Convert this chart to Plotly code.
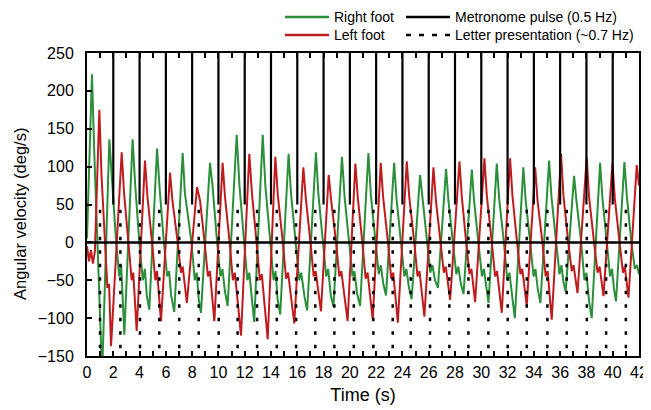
import plotly.graph_objects as go

# ---------------- data ----------------
right_t = [
    0.00, 0.38, 0.55, 0.75, 0.95, 1.15,
    1.70, 1.90, 2.20, 2.45, 2.60, 2.84,
    3.47, 3.67, 3.98, 4.25, 4.40, 4.55, 4.74,
    5.33, 5.53, 5.85, 6.10, 6.25, 6.40, 6.64,
    7.28, 7.45, 7.95, 8.20, 8.35, 8.50, 8.67,
    9.36, 9.55, 9.90, 10.15, 10.30, 10.50, 10.70,
    11.39, 11.60, 11.95, 12.20, 12.35, 12.55, 12.72,
    13.37, 13.57, 13.95, 14.20, 14.35, 14.50, 14.70,
    15.34, 15.52, 15.90, 16.15, 16.30, 16.55, 16.75,
    17.42, 17.60, 17.95, 18.20, 18.35, 18.55, 18.75,
    19.40, 19.60, 19.95, 20.20, 20.35, 20.55, 20.78,
    21.41, 21.60, 21.95, 22.20, 22.35, 22.55, 22.75,
    23.37, 23.55, 23.90, 24.15, 24.30, 24.50, 24.70,
    25.34, 25.52, 25.88, 26.12, 26.28, 26.48, 26.70,
    27.32, 27.50, 27.85, 28.10, 28.25, 28.45, 28.65,
    29.28, 29.45, 29.80, 30.05, 30.20, 30.38, 30.55,
    31.18, 31.36, 31.72, 31.98, 32.14, 32.35, 32.55,
    33.20, 33.38, 33.72, 33.98, 34.12, 34.30, 34.50,
    35.16, 35.34, 35.70, 35.95, 36.10, 36.25, 36.42,
    37.06, 37.24, 37.60, 37.85, 38.00, 38.20, 38.40,
    39.04, 39.22, 39.55, 39.80, 39.95, 40.10, 40.25,
    40.89, 41.08, 41.42, 41.68, 41.85, 42.00,
]
right_v = [
    5, 222, 120, 30, -60, -175,
    136, 80, 5, -45, -30, -122,
    136, 75, 0, -50, -35, -70, -89,
    124, 70, 0, -45, -38, -70, -92,
    118, 65, 0, -50, -40, -75, -93,
    105, 75, 0, -45, -35, -65, -84,
    142, 75, 0, -50, -40, -80, -105,
    142, 75, 0, -50, -38, -75, -95,
    117, 65, 0, -50, -40, -72, -90,
    119, 65, 0, -45, -35, -70, -85,
    113, 60, 0, -45, -38, -68, -84,
    118, 62, 0, -42, -30, -55, -70,
    105, 58, 0, -45, -35, -60, -75,
    89, 60, 0, -40, -30, -50, -60,
    97, 55, 0, -42, -32, -55, -68,
    96, 55, 0, -45, -35, -62, -80,
    104, 58, 0, -50, -40, -75, -100,
    99, 55, 0, -45, -35, -62, -80,
    108, 60, 0, -42, -30, -52, -65,
    88, 55, 0, -50, -40, -78, -100,
    105, 58, 0, -45, -35, -62, -78,
    106, 60, 0, -35, -30, -42,
]

left_t = [
    0.00, 0.15, 0.30, 0.45, 0.60,
    0.94, 1.10, 1.35, 1.55, 1.68, 1.83,
    2.64, 2.82, 3.15, 3.40, 3.52, 3.65, 3.78,
    4.41, 4.60, 4.95, 5.20, 5.33, 5.48, 5.63,
    6.32, 6.50, 6.90, 7.15, 7.28, 7.45, 7.60,
    8.37, 8.60, 8.95, 9.20, 9.35, 9.52, 9.69,
    10.32, 10.50, 10.85, 11.10, 11.25, 11.50, 11.72,
    12.35, 12.55, 12.90, 13.15, 13.30, 13.55, 13.75,
    14.33, 14.52, 14.90, 15.15, 15.30, 15.55, 15.77,
    16.46, 16.65, 17.00, 17.25, 17.40, 17.60, 17.80,
    18.39, 18.58, 18.95, 19.20, 19.35, 19.60, 19.83,
    20.42, 20.60, 20.95, 21.20, 21.35, 21.55, 21.74,
    22.35, 22.53, 22.90, 23.15, 23.30, 23.48, 23.65,
    24.33, 24.52, 24.90, 25.15, 25.30, 25.50, 25.67,
    26.36, 26.55, 26.90, 27.15, 27.30, 27.48, 27.63,
    28.34, 28.52, 28.85, 29.10, 29.25, 29.40, 29.53,
    30.24, 30.42, 30.80, 31.05, 31.20, 31.40, 31.56,
    32.19, 32.37, 32.72, 32.98, 33.12, 33.30, 33.46,
    34.10, 34.28, 34.65, 34.90, 35.05, 35.22, 35.36,
    36.07, 36.25, 36.62, 36.88, 37.02, 37.18, 37.32,
    38.02, 38.20, 38.58, 38.85, 39.00, 39.15, 39.30,
    39.98, 40.16, 40.52, 40.78, 40.92, 41.06, 41.20,
    41.83, 42.00,
]
left_v = [
    -5, -25, -10, -28, -12,
    175, 90, 0, -60, -55, -137,
    119, 65, 0, -50, -40, -80, -117,
    108, 60, 0, -50, -38, -75, -104,
    92, 55, 0, -40, -32, -60, -80,
    73, 55, 0, -45, -38, -75, -104,
    105, 60, 0, -50, -40, -80, -123,
    117, 65, 0, -50, -42, -85, -128,
    113, 62, 0, -48, -40, -75, -107,
    99, 58, 0, -45, -38, -65, -91,
    89, 55, 0, -45, -38, -70, -104,
    104, 60, 0, -48, -40, -70, -102,
    105, 60, 0, -48, -40, -75, -106,
    107, 60, 0, -45, -38, -68, -98,
    99, 55, 0, -40, -32, -55, -76,
    107, 60, 0, -42, -35, -58, -79,
    111, 62, 0, -45, -38, -70, -93,
    111, 62, 0, -42, -35, -62, -84,
    99, 55, 0, -45, -38, -72, -102,
    117, 62, 0, -38, -30, -50, -67,
    112, 60, 0, -40, -32, -55, -71,
    105, 58, 0, -40, -32, -55, -73,
    102, 75,
]

metronome_t = [2, 4, 6, 8, 10, 12, 14, 16, 18, 20,
               22, 24, 26, 28, 30, 32, 34, 36, 38, 40]
metronome_span = [50, 250]

letter_t = [0.99, 2.54, 4.03, 5.50, 7.02, 8.50, 10.02, 11.46, 12.94, 14.44,
            15.91, 17.37, 18.82, 20.30, 21.79, 23.26, 24.63, 26.10, 27.57, 29.02,
            30.54, 32.01, 33.46, 35.03, 36.50, 38.03, 39.50, 41.00]
letter_span = [43, -150]

x_ticks = list(range(0, 43))
x_ticktext = [str(v) if v % 2 == 0 else "" for v in x_ticks]
y_ticks = [-150, -100, -50, 0, 50, 100, 150, 200, 250]

GREEN = "#2b8f3b"
RED = "#bf1c20"
FONT = "Arial, Liberation Sans, sans-serif"

# ---------------- figure ----------------
def vlines(ts, span):
    xs, ys = [], []
    for t in ts:
        xs += [t, t, None]
        ys += [span[0], span[1], None]
    return xs, ys

fig = go.Figure()
fig.add_trace(go.Scatter(x=right_t, y=right_v, mode="lines", name="Right foot",
                         line=dict(color=GREEN, width=2)))
fig.add_trace(go.Scatter(x=left_t, y=left_v, mode="lines", name="Left foot",
                         line=dict(color=RED, width=2)))
mx, my = vlines(metronome_t, metronome_span)
fig.add_trace(go.Scatter(x=mx, y=my, mode="lines", name="Metronome pulse (0.5 Hz)",
                         line=dict(color="black", width=2.2)))
lx, ly = vlines(letter_t, letter_span)
fig.add_trace(go.Scatter(x=lx, y=ly, mode="lines", name="Letter presentation (~0.7 Hz)",
                         line=dict(color="black", width=2.5, dash="3.5px,10px")))

# zero reference line
fig.add_shape(type="line", xref="paper", x0=0, x1=1, yref="y", y0=0, y1=0,
              line=dict(color="black", width=2.5), layer="above")

# page body has an 8px margin: figure is 8px smaller, plot area lands at screen 87..639 x 53..356
W, H, OFF = 643, 402, 8
L, R, T, B = 87, 639, 53, 356          # plot area in screen pixels
def px(xp):
    return (xp - L) / (R - L)
def py(yp):
    return (B - yp) / (B - T)

legend_items = [
    ("Right foot", GREEN, "solid", 285, 17),
    ("Left foot", RED, "solid", 285, 35),
    ("Metronome pulse (0.5 Hz)", "black", "solid", 406, 17),
    ("Letter presentation (~0.7 Hz)", "black", "5px,8px", 406, 35),
]
for text, col, dash, x0, y0 in legend_items:
    fig.add_shape(type="line", xref="paper", yref="paper",
                  x0=px(x0), x1=px(x0 + 44), y0=py(y0), y1=py(y0),
                  line=dict(color=col, width=2.5, dash=dash))
    fig.add_annotation(xref="paper", yref="paper", x=px(x0 + 47), y=py(y0),
                       text=text, showarrow=False, xanchor="left", yanchor="middle",
                       font=dict(family=FONT, size=14, color="black"))

# y-axis title (placed slightly below the plot centre, as in the reference)
fig.add_annotation(xref="paper", yref="paper", x=px(20), y=py(214),
                   text="Angular velocity (deg/s)", textangle=-90, showarrow=False,
                   xanchor="center", yanchor="middle",
                   font=dict(family=FONT, size=16.5, color="black"))

fig.update_layout(
    width=W, height=H,
    margin=dict(l=L - OFF, r=W + OFF - R, t=T - OFF, b=H + OFF - B, autoexpand=False),
    paper_bgcolor="white", plot_bgcolor="white",
    showlegend=False,
    font=dict(family=FONT, color="black"),
)
fig.update_xaxes(
    range=[0, 42], tickmode="array", tickvals=x_ticks, ticktext=x_ticktext,
    ticks="inside", ticklen=5, tickwidth=1.5, tickcolor="black",
    showline=True, linewidth=2, linecolor="black", mirror="ticks",
    showgrid=False, zeroline=False, automargin=False,
    tickfont=dict(size=16, family=FONT, color="black"), ticklabelstandoff=1,
    title=dict(text="Time (s)", font=dict(size=18, family=FONT, color="black"), standoff=8),
)
fig.update_yaxes(
    range=[-150, 250], tickmode="array", tickvals=y_ticks,
    ticks="inside", ticklen=5, tickwidth=1.5, tickcolor="black",
    showline=True, linewidth=2, linecolor="black", mirror=True,
    showgrid=False, zeroline=False, automargin=False,
    tickfont=dict(size=16, family=FONT, color="black"), ticklabelstandoff=8,
)

fig.write_html("out.html")
